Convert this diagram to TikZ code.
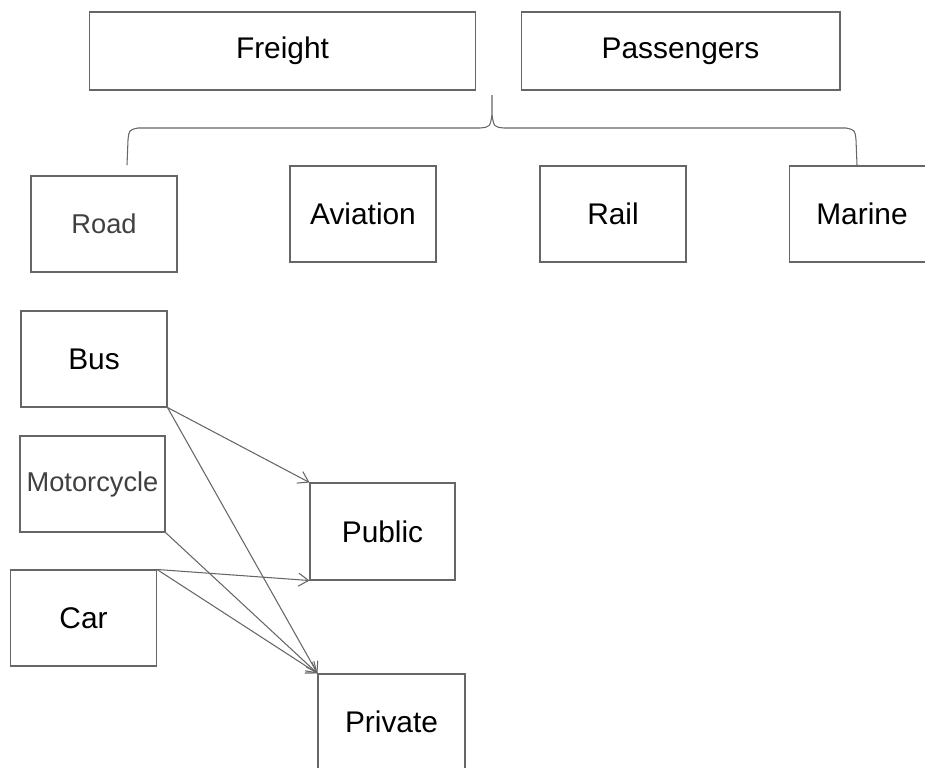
\documentclass[tikz,border=0pt]{standalone}
\usepackage{fontspec}
\setmainfont{Liberation Sans}
\usetikzlibrary{arrows.meta}
\tikzset{
  box/.style={draw=black!60, line width=0.6pt, minimum width=2.92cm, minimum height=1.92cm,
    inner sep=0pt, font=\fontsize{17}{20}\selectfont},
  topbox/.style={box, minimum height=1.56cm},
  lightbox/.style={box, text=black!75, font=\fontsize{15.5}{18}\selectfont},
  link/.style={draw=black!60, line width=0.6pt, -{Straight Barb[length=2mm,width=2.6mm]}},
  brace/.style={draw=black!60, line width=0.6pt}
}
\begin{document}
\begin{tikzpicture}[x=0.02cm, y=-0.02cm]
		\useasboundingbox (0,0) rectangle (925,767);
		\clip (0,0) rectangle (925,767);
		% top row
		\node[topbox, minimum width=7.74cm] (freight) at (282.5,51) {Freight};
		\node[topbox, minimum width=6.38cm] (passengers) at (680.5,51) {Passengers};
		% modes
		\node[lightbox] (road) at (104,224) {Road};
		\node[box] (aviation) at (363,214) {Aviation};
		\node[box] (rail) at (613,214) {Rail};
		\node[box] (marine) at (862,214) {Marine};
		% brace
		\coordinate (tip) at (492,95);
		\coordinate (bl) at (127,165);
		\coordinate (br) at (857,165);
		\draw[brace] (bl) -- (128,140) .. controls (129,130) .. (138,128) -- (480,128)
			.. controls (490,127) .. (492,115) -- (tip);
		\draw[brace] (br) -- (856,140) .. controls (855,130) .. (846,128) -- (504,128)
			.. controls (494,127) .. (492,115);
		% road vehicles
		\node[box] (bus) at (94,359) {Bus};
		\node[lightbox, minimum width=2.9cm] (moto) at (92.5,484) {Motorcycle};
		\node[box] (car) at (83.5,618) {Car};
		\node[box, minimum width=2.9cm, minimum height=1.94cm] (public) at (382.5,531.5) {Public};
		\node[box, minimum width=2.94cm] (private) at (391.5,722) {Private};
		\draw[link] (bus.south east) -- (public.north west);
		\draw[link] (bus.south east) -- (private.north west);
		\draw[link] (moto.south east) -- (private.north west);
		\draw[link] (car.north east) -- (public.south west);
		\draw[link] (car.north east) -- (private.north west);
\end{tikzpicture}
\end{document}
